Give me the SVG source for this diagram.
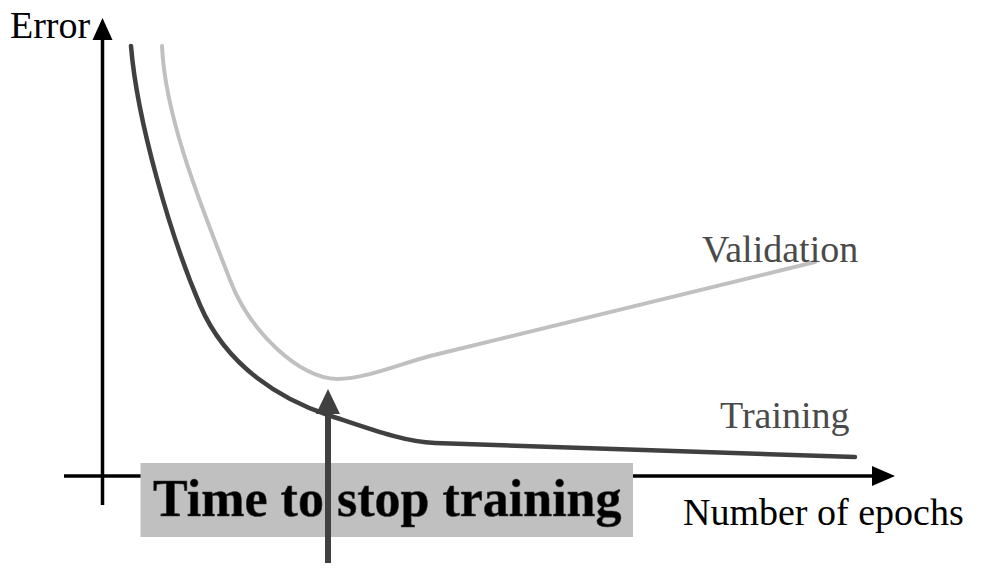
<svg xmlns="http://www.w3.org/2000/svg" width="994" height="581" viewBox="0 0 994 581">
<style>
.axis{stroke:#000;stroke-width:3.5;fill:none}
.head{fill:#000}
.lbl{font-family:"Liberation Serif","Times New Roman",serif;font-size:38px}
.curve{fill:none;stroke-linecap:round;stroke-linejoin:round}
</style>
<rect width="994" height="581" fill="#fff"/>
<g id="connectors">
  <g id="y-axis">
    <line class="axis" x1="102.5" y1="505" x2="102.5" y2="36"/>
    <polygon class="head" points="102.5,18 92.5,40 112.5,40"/>
  </g>
  <g id="x-axis">
    <line class="axis" x1="64" y1="476" x2="876" y2="476"/>
    <polygon class="head" points="895,476 872,466 872,486"/>
  </g>
</g>
<g id="validation-curve">
  <path class="curve" stroke="#c0c0c0" stroke-width="4" d="M162,46 C165,120 205,215 230,280 C250,332 300,379 337,379 C365,379 400,364 430,356 L815,262"/>
</g>
<g id="training-curve">
  <path class="curve" stroke="#404040" stroke-width="4.5" d="M131,46 C137,120 170,235 200,305 C227,368 283,400 328,415 C373,430 405,442 435,443 L855,457"/>
</g>
<g id="error-label"><text class="lbl" x="10" y="38" fill="#000">Error</text></g>
<g id="validation-label"><text class="lbl" x="702" y="262" fill="#4a4a4a">Validation</text></g>
<g id="training-label"><text class="lbl" x="720" y="428" fill="#4a4a4a">Training</text></g>
<g id="epochs-label"><text class="lbl" x="683" y="525" fill="#000">Number of epochs</text></g>
<g id="stop-box">
  <rect x="140.5" y="463" width="492.5" height="74" fill="#c0c0c0"/>
  <text x="153" y="516" font-family="'Liberation Serif','Times New Roman',serif" font-size="52" font-weight="bold" fill="#000" stroke="#3a3a3a" stroke-width="0.6">Time to stop training</text>
</g>
<g id="stop-arrow">
  <line x1="328" y1="563" x2="328" y2="408" stroke="#404040" stroke-width="6"/>
  <polygon points="328,389 316,414 340,414" fill="#404040"/>
</g>
</svg>
